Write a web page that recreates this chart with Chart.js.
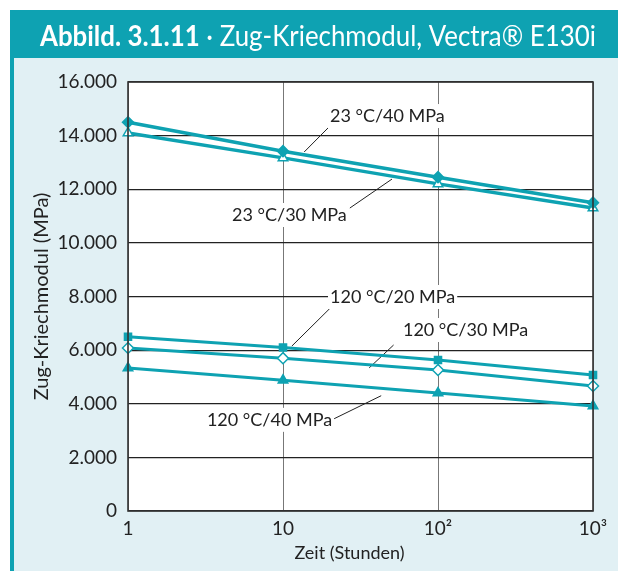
<!DOCTYPE html>
<html>
<head>
<meta charset="utf-8">
<script src="https://cdn.jsdelivr.net/npm/chart.js@4/dist/chart.umd.min.js"></script>
<style>
  html, body { margin: 0; padding: 0; background: #ffffff; }
  #wrap { width: 618px; height: 571px; position: relative; }
</style>
</head>
<body>
<div id="wrap"><canvas id="c" width="618" height="571"></canvas></div>
<script>
// ---- Data ----
const xValues = [1, 10, 100, 1000];
const s23_40 = [14500, 13420, 12450, 11500];
const s23_30 = [14100, 13170, 12200, 11300];
const s120_20 = [6500, 6100, 5630, 5070];
const s120_30 = [6080, 5700, 5260, 4660];
const s120_40 = [5330, 4880, 4400, 3920];

const seriesNames = ['23 °C/40 MPa', '23 °C/30 MPa', '120 °C/20 MPa', '120 °C/30 MPa', '120 °C/40 MPa'];

const xTicks = [1, 10, 100, 1000];
const xTickLabels = ['1', '10', '10²', '10³'];
const yTicks = [0, 2000, 4000, 6000, 8000, 10000, 12000, 14000, 16000];

const titleBold = 'Abbild. 3.1.11';
const titleRest = ' · Zug-Kriechmodul, Vectra® E130i';
const xTitle = 'Zeit (Stunden)';
const yTitle = 'Zug-Kriechmodul (MPa)';

// label anchors (data coords): text left/centre, leader line from -> to
const labelTextPos = [
  { x: 20.1, y: 14730 },
  { x: 4.69, y: 11040 },
  { x: 20.1, y: 7982 },
  { x: 59.4, y: 6750 },
  { x: 3.23, y: 3400 }
];
const leaderFrom = [
  { x: 13.7, y: 13390 },
  { x: 27.0, y: 11300 },
  { x: 11.4, y: 6150 },
  { x: 36.0, y: 5340 },
  { x: 43.0, y: 4300 }
];
const leaderTo = [
  { x: 20.1, y: 14360 },
  { x: 50.5, y: 12380 },
  { x: 20.1, y: 7560 },
  { x: 51.7, y: 6190 },
  { x: 20.5, y: 3390 }
];

const TEAL = '#0ea2b2';
const fmt = v => String(v).replace(/\B(?=(\d{3})+(?!\d))/g, '.');
const pts = arr => xValues.map((x, i) => ({ x: x, y: arr[i] }));

const bgPlugin = {
  id: 'bg',
  beforeDraw(chart) {
    const ctx = chart.ctx;
    const a = chart.chartArea;
    ctx.save();
    ctx.fillStyle = '#ffffff';
    ctx.fillRect(0, 0, 618, 571);
    ctx.fillStyle = '#e1f0f4';
    ctx.fillRect(14, 58, 604, 513);
    ctx.fillStyle = TEAL;
    ctx.fillRect(10, 10, 608, 48);
    ctx.fillRect(10, 10, 4, 561);
    ctx.fillStyle = '#ffffff';
    ctx.fillRect(a.left, a.top, a.right - a.left, a.bottom - a.top);
    // header text
    ctx.textBaseline = 'alphabetic';
    ctx.font = 'bold 28px Lato';
    const wb = ctx.measureText(titleBold).width;
    ctx.font = '28px Lato';
    const wr = ctx.measureText(titleRest).width;
    const sx = 556 / (wb + wr);
    ctx.translate(40, 46);
    ctx.scale(sx, 1);
    ctx.fillStyle = '#ffffff';
    ctx.font = 'bold 28px Lato';
    ctx.fillText(titleBold, 0, 0);
    ctx.font = '28px Lato';
    ctx.fillText(titleRest, wb, 0);
    ctx.restore();
  },
  beforeDatasetsDraw(chart) {
    const ctx = chart.ctx;
    const xs = chart.scales.x, ys = chart.scales.y;
    ctx.save();
    ctx.font = '18px Lato';
    ctx.textBaseline = 'middle';
    for (let i = 0; i < seriesNames.length; i++) {
      const fx = xs.getPixelForValue(leaderFrom[i].x), fy = ys.getPixelForValue(leaderFrom[i].y);
      const tx = xs.getPixelForValue(leaderTo[i].x), ty = ys.getPixelForValue(leaderTo[i].y);
      ctx.strokeStyle = '#222';
      ctx.lineWidth = 1;
      ctx.beginPath(); ctx.moveTo(fx, fy); ctx.lineTo(tx, ty); ctx.stroke();
    }
    for (let i = 0; i < seriesNames.length; i++) {
      const px = xs.getPixelForValue(labelTextPos[i].x), py = ys.getPixelForValue(labelTextPos[i].y);
      const w = ctx.measureText(seriesNames[i]).width;
      ctx.fillStyle = '#ffffff';
      ctx.fillRect(px - 2, py - 12, w + 4, 24);
      ctx.fillStyle = '#222';
      ctx.fillText(seriesNames[i], px, py);
    }
    ctx.restore();
  },
  afterDraw(chart) {
    const ctx = chart.ctx;
    const a = chart.chartArea;
    ctx.save();
    ctx.strokeStyle = '#333';
    ctx.lineWidth = 1.6;
    ctx.strokeRect(a.left, a.top, a.right - a.left, a.bottom - a.top);
    // x axis title
    ctx.fillStyle = '#222';
    ctx.font = '18px Lato';
    ctx.textAlign = 'center';
    ctx.textBaseline = 'middle';
    ctx.fillText(xTitle, (a.left + a.right) / 2 - 11, a.bottom + 42);
    ctx.restore();
  }
};

const ds = (label, arr, style, filled, width, radius) => ({
  label: label,
  data: pts(arr),
  borderColor: TEAL,
  borderWidth: width,
  backgroundColor: filled ? TEAL : '#ffffff',
  pointStyle: style,
  pointRadius: radius,
  pointBorderColor: TEAL,
  pointBorderWidth: 1.5,
  pointBackgroundColor: filled ? TEAL : '#ffffff',
  tension: 0,
  fill: false
});

new Chart(document.getElementById('c'), {
  type: 'line',
  data: {
    datasets: [
      ds(seriesNames[0], s23_40, 'rectRot', true, 3.5, 5.5),
      ds(seriesNames[1], s23_30, 'triangle', false, 3.5, 5.5),
      ds(seriesNames[2], s120_20, 'rect', true, 3, 5),
      ds(seriesNames[3], s120_30, 'rectRot', false, 3, 5.5),
      ds(seriesNames[4], s120_40, 'triangle', true, 3, 5.5)
    ]
  },
  options: {
    responsive: false,
    animation: false,
    clip: false,
    layout: { padding: { left: 14, top: 82, right: 25, bottom: 8 } },
    plugins: { legend: { display: false }, tooltip: { enabled: false } },
    scales: {
      x: {
        type: 'logarithmic',
        min: 1, max: 1000,
        afterBuildTicks: s => { s.ticks = xTicks.map(v => ({ value: v })); },
        afterFit: s => { s.height = 52; },
        ticks: {
          color: '#222',
          font: { family: 'Lato', size: 19 },
          padding: 6,
          maxRotation: 0,
          autoSkip: false,
          callback: (v, i) => xTickLabels[i]
        },
        grid: { color: '#777', lineWidth: 1, drawTicks: false },
        border: { display: false },
        title: { display: false, text: xTitle }
      },
      y: {
        min: 0, max: 16000,
        afterBuildTicks: s => { s.ticks = yTicks.map(v => ({ value: v })); },
        afterFit: s => { s.width = 114; },
        ticks: {
          color: '#222',
          font: { family: 'Lato', size: 19 },
          padding: 11,
          callback: v => fmt(v)
        },
        grid: { color: '#222', lineWidth: 1.2, drawTicks: false },
        border: { display: false },
        title: { display: true, text: yTitle, color: '#222', font: { family: 'Lato', size: 20 }, padding: { top: 16, bottom: 16 } }
      }
    }
  },
  plugins: [bgPlugin]
});
</script>
</body>
</html>
